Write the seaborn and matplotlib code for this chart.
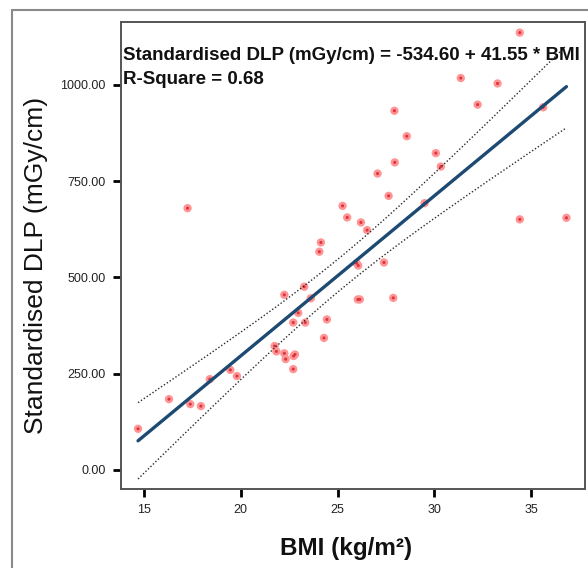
import numpy as np
import pandas as pd
import matplotlib
matplotlib.use("Agg")
import matplotlib.pyplot as plt
from matplotlib.lines import Line2D
import seaborn as sns

# ---- data ----
bmi = [14.69, 16.29, 17.39, 17.94, 17.25, 18.40, 19.46, 19.80, 21.75, 21.84,
       22.25, 22.25, 22.32, 22.73, 22.80, 22.71, 22.71, 22.97, 23.28, 23.33,
       23.62, 24.06, 24.14, 24.30, 24.45, 25.26, 25.50, 25.99, 26.07, 26.05,
       26.15, 26.21, 26.53, 27.07, 27.40, 27.64, 27.88, 27.94, 27.96, 28.58,
       29.50, 30.08, 30.34, 31.37, 32.24, 33.27, 34.42, 34.42, 35.63, 36.83]
dlp = [107, 184, 171, 166, 680, 236, 260, 244, 322, 308,
       455, 303, 288, 296, 300, 262, 383, 408, 476, 383,
       446, 567, 591, 343, 391, 686, 656, 537, 531, 443,
       443, 643, 623, 770, 539, 712, 447, 933, 799, 867,
       693, 823, 788, 1018, 949, 1004, 1136, 651, 942, 655]

intercept = -534.60
slope = 41.55
r_square = 0.68
T_CRIT = 2.01  # t(0.975, df=48)

x_ticks = [15, 20, 25, 30, 35]
y_ticks = [0, 250, 500, 750, 1000]

df = pd.DataFrame({"BMI": bmi, "DLP": dlp})

# ---- regression line + 95% mean confidence interval ----
x = df["BMI"].values
y = df["DLP"].values
n = len(x)
resid = y - (intercept + slope * x)
s = np.sqrt(np.sum(resid ** 2) / (n - 2))
sxx = np.sum((x - x.mean()) ** 2)

xs = np.linspace(x.min(), x.max(), 200)
fit = intercept + slope * xs
half = T_CRIT * s * np.sqrt(1.0 / n + (xs - x.mean()) ** 2 / sxx)
fit_df = pd.DataFrame({"BMI": xs, "fit": fit, "lo": fit - half, "hi": fit + half})

# ---- figure ----
sns.set_style("ticks")
plt.rcParams["font.family"] = ["Liberation Sans", "DejaVu Sans"]

fig = plt.figure(figsize=(5.88, 5.68), dpi=100)
ax = fig.add_axes([121 / 588, 79 / 568, 464 / 588, 467 / 568])

sns.scatterplot(data=df, x="BMI", y="DLP", ax=ax, s=36, color="#ff9494",
                edgecolor="none", zorder=2, legend=False)
sns.scatterplot(data=df, x="BMI", y="DLP", ax=ax, s=5, color="#dc3540",
                edgecolor="none", zorder=2.1, legend=False)

sns.lineplot(data=fit_df, x="BMI", y="hi", ax=ax, color="#2a2a2a", lw=1.0,
             linestyle=(0, (1, 1.5)), zorder=3)
sns.lineplot(data=fit_df, x="BMI", y="lo", ax=ax, color="#2a2a2a", lw=1.0,
             linestyle=(0, (1, 1.5)), zorder=3)
sns.lineplot(data=fit_df, x="BMI", y="fit", ax=ax, color="#1d4a72", lw=2.4,
             zorder=4)

ax.set_xlim(13.81, 37.79)
ax.set_ylim(-49.4, 1163.6)
ax.set_xticks(x_ticks)
ax.set_xticklabels([str(t) for t in x_ticks])
ax.set_yticks(y_ticks)
ax.set_yticklabels([f"{t:.2f}" for t in y_ticks])
ax.tick_params(axis="both", direction="out", length=6, width=2, color="black",
               labelsize=9, labelcolor="#222222", pad=5)

for sp in ax.spines.values():
    sp.set_color("#555555")
    sp.set_linewidth(1.4)

ax.set_xlabel("")
ax.set_ylabel("")
fig.text(346 / 588, 1 - 549 / 568, "BMI (kg/m\u00b2)", ha="center", va="center",
         fontsize=17.5, fontweight="bold", color="#111111")
fig.text(36 / 588, 1 - 265 / 568, "Standardised DLP (mGy/cm)", ha="center",
         va="center", rotation=90, fontsize=19, color="#111111")

ax.text(0.005, 0.9186,
        f"Standardised DLP (mGy/cm) = {intercept:.2f} + {slope:.2f} * BMI",
        transform=ax.transAxes, ha="left", va="baseline", fontsize=13.5,
        fontweight="bold", color="#111111", clip_on=True, zorder=5)
ax.text(0.005, 0.8672, f"R-Square = {r_square:.2f}", transform=ax.transAxes,
        ha="left", va="baseline", fontsize=13.5, fontweight="bold",
        color="#111111", zorder=5)

# outer frame (left and top edges)
fig.add_artist(Line2D([12 / 588, 12 / 588], [0, 1 - 10 / 568],
                      transform=fig.transFigure, color="#8a8a8a", lw=1.5))
fig.add_artist(Line2D([12 / 588, 1], [1 - 10 / 568, 1 - 10 / 568],
                      transform=fig.transFigure, color="#8a8a8a", lw=1.5))

fig.savefig("out.png", dpi=100)
